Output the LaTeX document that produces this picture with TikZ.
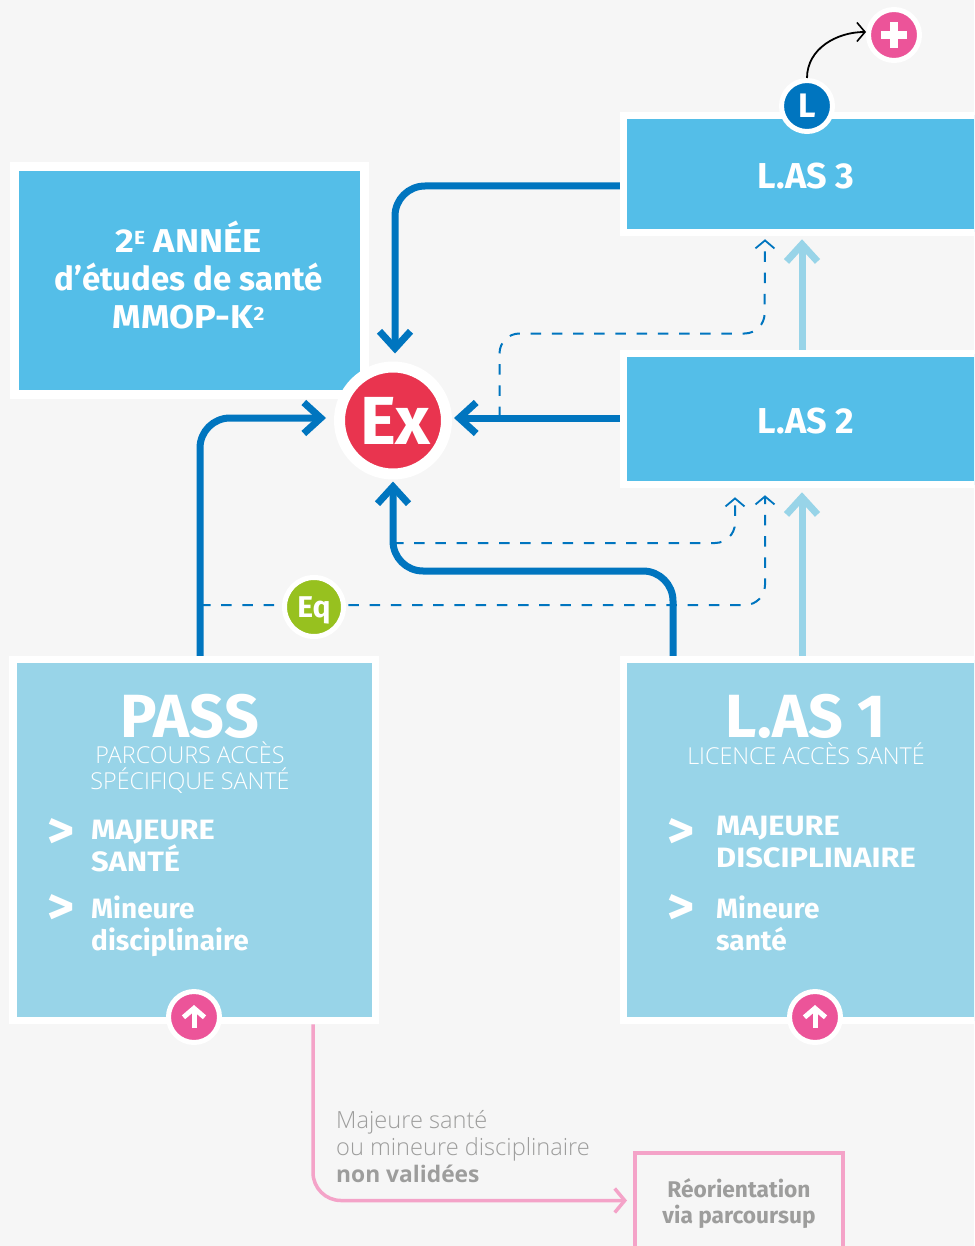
\documentclass[tikz,border=0pt]{standalone}
\usepackage{fontspec}
\usetikzlibrary{arrows.meta}
\setmainfont{Open Sans}
\newfontfamily\headfont{Fira Sans}
\newfontfamily\capfont[FakeStretch=1.1]{Fira Sans}
\newfontfamily\thinfont{Open Sans Light}
\definecolor{pagegrey}{HTML}{F6F6F6}
\definecolor{darkblue}{HTML}{0075BF}
\definecolor{midblue}{HTML}{54BEE8}
\definecolor{paleblue}{HTML}{98D4E8}
\definecolor{examred}{HTML}{E9344F}
\definecolor{eqgreen}{HTML}{97C11F}
\definecolor{rosepink}{HTML}{EC5499}
\definecolor{softpink}{HTML}{F4A3C8}
\definecolor{softgrey}{HTML}{9D9D9C}
\newcommand{\smallsup}[1]{\raisebox{8pt}{\fontsize{19}{19}\selectfont #1}}
\newcommand{\lowered}[2]{\raisebox{-#1}[\height][\depth]{#2}}
\tikzset{
    boxnode/.style={rectangle, draw=white, line width=7.5pt, inner sep=0pt, text=white, align=center},
    yeartext/.style={font=\headfont\bfseries\fontsize{36}{38}\selectfont},
    badge/.style={circle, draw=white, line width=5pt, inner sep=0pt, minimum size=51pt, text=white, font=\headfont\bfseries\fontsize{34}{34}\selectfont},
    mainflow/.style={draw=darkblue, line width=7pt, rounded corners=30pt, -{Straight Barb[length=17pt,width=31pt,line width=7pt]}},
    paleflow/.style={draw=paleblue, line width=7pt, -{Straight Barb[length=17pt,width=31pt,line width=7pt]}},
    dashflow/.style={draw=darkblue, line width=2pt, dash pattern=on 10.5pt off 10.7pt, rounded corners=20pt, -{Straight Barb[length=8pt,width=19pt,line width=1.8pt]}},
    pinkflow/.style={draw=softpink, line width=3.5pt, rounded corners=28pt, -{Straight Barb[length=10pt,width=24pt,line width=3.5pt]}},
    iconflow/.style={draw=white, line width=5pt, -{Straight Barb[length=9pt,width=21pt,line width=5pt]}},
    itemtext/.style={anchor=west, align=left, text=white, inner sep=0pt, font=\headfont\bfseries\fontsize{28}{32}\selectfont},
    chevron/.style={anchor=center, text=white, inner sep=0pt, font=\headfont\bfseries\fontsize{52}{52}\selectfont},
    subtext/.style={text=white, align=center, inner sep=0pt, font=\thinfont\fontsize{23.3}{26}\selectfont},
    bigtitle/.style={text=white, inner sep=0pt, font=\headfont\bfseries\fontsize{61}{61}\selectfont}
}
\begin{document}
\begin{tikzpicture}[x=1pt, y=-1pt]
    \useasboundingbox (0,0) rectangle (974,1246);
    \clip (0,0) rectangle (974,1246);
    \fill[pagegrey] (0,0) rectangle (974,1246);

    % Upper boxes
    \node[boxnode, fill=midblue, minimum width=350pt, minimum height=228pt, line width=9pt] (annee) at (189,280.5) {};
    \node[text=white, align=center, inner sep=0pt, font=\headfont\bfseries\fontsize{33}{38}\selectfont] (anneetext) at (188.5,275)
        {{\capfont 2\smallsup{E} ANNÉE} \\ d’études de santé \\ {\capfont MMOP-K\smallsup{2}}};
    \node[boxnode, fill=midblue, minimum width=365pt, minimum height=117pt, yeartext] (las3) at (806,174) {\lowered{2pt}{L.AS 3}};
    \node[boxnode, fill=midblue, minimum width=365pt, minimum height=131pt, yeartext] (las2) at (806,419) {\lowered{2pt}{L.AS 2}};

    % Lower boxes
    \node[boxnode, fill=paleblue, minimum width=362.5pt, minimum height=361pt] (pass) at (194,840) {};
    \node[boxnode, fill=paleblue, minimum width=365pt, minimum height=361pt] (las1) at (806,840) {};

    % PASS content
    \node[bigtitle] (passtitle) at (190,716) {PASS};
    \node[subtext] (passsub) at (190,767.5) {PARCOURS ACCÈS \\ SPÉCIFIQUE SANTÉ};
    \node[chevron] (passmark1) at (61,834) {>};
    \node[itemtext] (passmaj) at (91,846) {{\capfont MAJEURE} \\ {\capfont SANTÉ}};
    \node[chevron] (passmark2) at (61,910) {>};
    \node[itemtext] (passmin) at (91,926) {Mineure \\ disciplinaire};

    % L.AS 1 content
    \node[bigtitle] (lastitle) at (806,716) {L.AS 1};
    \node[subtext] (lassub) at (806,754) {LICENCE ACCÈS SANTÉ};
    \node[chevron] (lasmark1) at (681,834) {>};
    \node[itemtext] (lasmaj) at (716,842) {{\capfont MAJEURE} \\ {\capfont DISCIPLINAIRE}};
    \node[chevron] (lasmark2) at (681,910) {>};
    \node[itemtext] (lasmin) at (716,923) {Mineure \\ santé};

    % Reorientation box and its notes
    \node[rectangle, draw=softpink, line width=4pt, minimum width=208pt, minimum height=147pt, inner sep=0pt] (reobox) at (739,1226.5) {};
    \node[text=softgrey, align=center, inner sep=0pt, font=\headfont\bfseries\fontsize{22.7}{26}\selectfont] (reotext) at (739,1204) {Réorientation \\ via parcoursup};
    \node[anchor=west, align=left, text=softgrey, inner sep=0pt, font=\thinfont\fontsize{23.6}{27}\selectfont] (reonote) at (336,1147)
        {Majeure santé \\ ou mineure disciplinaire \\ {\fontspec{Open Sans}\bfseries\fontsize{22.8}{27}\selectfont non validées}};

    % Round badges
    \node[circle, draw=white, line width=11pt, minimum size=107pt, inner sep=0pt, fill=examred, text=white,
          font=\headfont\bfseries\fontsize{68}{68}\selectfont] (ex) at (393,420.5) {\hspace{5pt}Ex};
    \node[badge, fill=darkblue] (lbadge) at (807,106) {L};
    \node[badge, fill=rosepink] (plus) at (894,35) {};
    \node[badge, fill=rosepink] (passup) at (194,1017) {};
    \node[badge, fill=rosepink] (lasup) at (815,1017) {};

    % Free ends near the boxes and the exam badge
    \coordinate (exn) at ([xshift=2pt,yshift=8pt]ex.north);
    \coordinate (exw) at ([xshift=-8pt,yshift=2.5pt]ex.west);
    \coordinate (exe) at ([xshift=2pt,yshift=2.5pt]ex.east);
    \coordinate (exs) at ([yshift=-2pt]ex.south);
    \coordinate (las3in) at ([xshift=-41pt,yshift=-3pt]las3.south);
    \coordinate (las2ina) at ([xshift=-71pt,yshift=-9pt]las2.south);
    \coordinate (las2inb) at ([xshift=-41pt,yshift=-7pt]las2.south);
    \coordinate (reoin) at ([xshift=-6pt,yshift=26pt]reobox.west);

    % Dashed links
    \draw[dashflow] (499.5,417) |- (764.5,333.5) -- (las3in);
    \draw[dashflow] (393,543) -| (las2ina);
    \draw[dashflow] (200,605) -| (las2inb);

    % Main links towards the exam
    \draw[mainflow] ([yshift=-12pt]las3.west) -| (exn);
    \draw[mainflow] ([xshift=6pt]pass.north) |- (exw);
    \draw[mainflow] ([yshift=1pt]las2.west) -- (exe);
    \draw[mainflow] ([xshift=-133pt]las1.north) |- (393,571) -- (exs);

    % Pale links between years
    \draw[paleflow] ([xshift=-4pt]las2.north) -- ([xshift=-4pt,yshift=-3pt]las3.south);
    \draw[paleflow] ([xshift=-4pt]las1.north) -- ([xshift=-4pt,yshift=-4pt]las2.south);

    % Links in the margins
    \draw[draw=black, line width=1.8pt, -{Straight Barb[length=8pt,width=19pt,line width=1.6pt]}] (lbadge.north) to[out=90, in=180] ([yshift=3pt]plus.west);
    \draw[pinkflow] ([xshift=119pt]pass.south) |- (reoin);

    % Equivalence badge over the dashed link
    \node[circle, draw=white, line width=5pt, minimum size=59pt, inner sep=0pt, fill=eqgreen, text=white,
          font=\headfont\bfseries\fontsize{30}{30}\selectfont] (eq) at (314,607) {\lowered{3pt}{Eq}};

    % Icons inside the badges
    \draw[white, line width=8pt] ([xshift=-13pt]plus.center) -- ([xshift=13pt]plus.center);
    \draw[white, line width=8pt] ([yshift=-13pt]plus.center) -- ([yshift=13pt]plus.center);
    \draw[iconflow] ([yshift=-11pt]passup.center) -- ([yshift=12pt]passup.center);
    \draw[iconflow] ([yshift=-11pt]lasup.center) -- ([yshift=12pt]lasup.center);
\end{tikzpicture}
\end{document}
